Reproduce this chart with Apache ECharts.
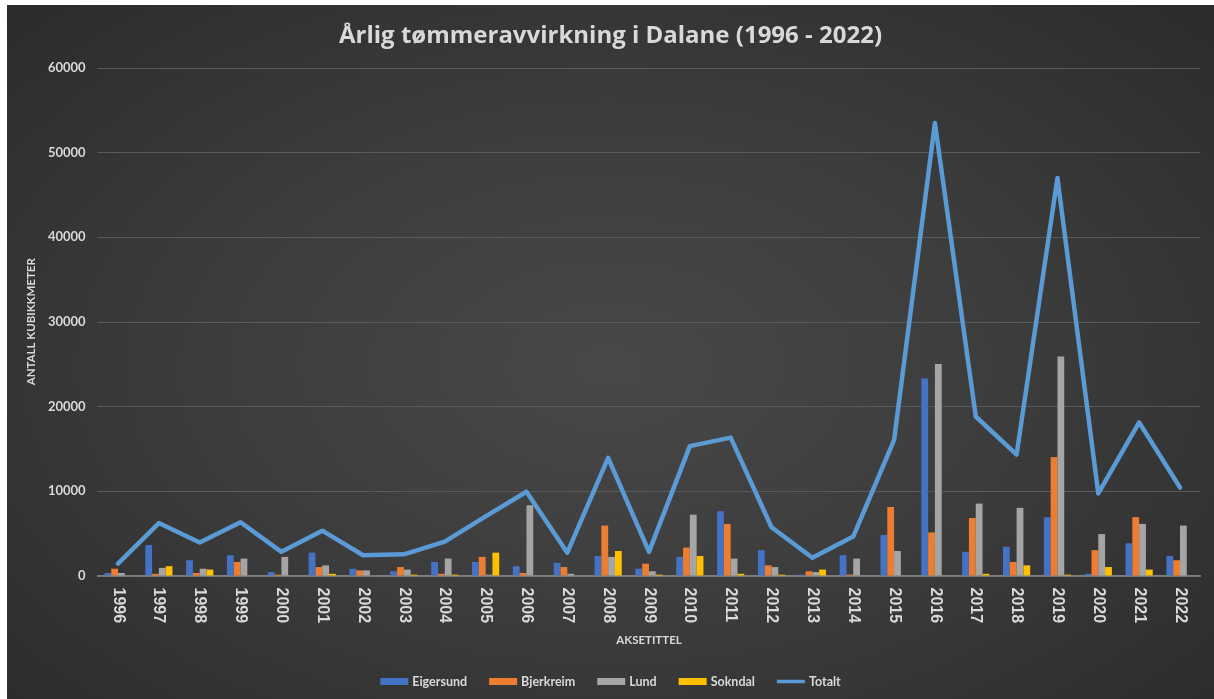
<!DOCTYPE html>
<html>
<head>
<meta charset="utf-8">
<script src="https://cdn.jsdelivr.net/npm/echarts@6/dist/echarts.min.js"></script>
<style>
  html, body { margin: 0; padding: 0; background: #ffffff; width: 1214px; height: 699px; overflow: hidden; }
  #chart { position: absolute; left: 7px; top: 5px; width: 1207px; height: 694px;
    background: radial-gradient(ellipse 70% 75% at 50% 52%, #484848 0%, #3d3d3d 45%, #2b2b2b 100%); }
</style>
</head>
<body>
<div id="chart"></div>
<script>
const years = ['1996','1997','1998','1999','2000','2001','2002','2003','2004','2005','2006','2007','2008','2009','2010','2011','2012','2013','2014','2015','2016','2017','2018','2019','2020','2021','2022'];
const eigersund = [300, 3600, 1800, 2400, 400, 2700, 800, 500, 1600, 1600, 1100, 1500, 2300, 800, 2200, 7600, 3000, 100, 2400, 4800, 23300, 2800, 3400, 6900, 200, 3800, 2300];
const bjerkreim = [800, 200, 300, 1600, 100, 1000, 600, 1000, 200, 2200, 300, 1000, 5900, 1400, 3300, 6100, 1200, 500, 100, 8100, 5100, 6800, 1600, 14000, 3000, 6900, 1800];
const lund = [300, 900, 800, 2000, 2200, 1200, 600, 700, 2000, 100, 8300, 200, 2200, 500, 7200, 2000, 1000, 400, 2000, 2900, 25000, 8500, 8000, 25900, 4900, 6100, 5900];
const sokndal = [0, 1100, 700, 0, 0, 200, 0, 100, 100, 2700, 0, 0, 2900, 100, 2300, 200, 100, 700, 0, 0, 0, 200, 1200, 100, 1000, 700, 0];
const totalt = [1400, 6200, 3900, 6300, 2800, 5300, 2400, 2500, 4000, 7000, 9900, 2700, 13900, 2800, 15300, 16300, 5700, 2100, 4600, 16000, 53500, 18800, 14300, 47000, 9700, 18100, 10400];
const colors = ['#4472c4', '#ed7d31', '#a5a5a5', '#ffc000', '#5b9bd5'];

const chart = echarts.init(document.getElementById('chart'), null, { renderer: 'canvas' });
const txt = '#d9d9d9';
function bar(name, data, color) {
  return {
    name: name, type: 'bar', data: data, barWidth: 6.8, barGap: '0%',
    itemStyle: { color: color }
  };
}
chart.setOption({
  backgroundColor: 'transparent',
  animation: false,
  color: colors,
  title: {
    text: 'Årlig tømmeravvirkning i Dalane (1996 - 2022)',
    left: 'center', top: 14,
    textStyle: { color: txt, fontFamily: 'Open Sans', fontWeight: 'bold', fontSize: 24 }
  },
  legend: {
    bottom: 6, left: 'center',
    itemWidth: 28, itemHeight: 7, itemGap: 22,
    textStyle: { color: txt, fontFamily: 'Lato', fontWeight: 'bold', fontSize: 12.5, padding: [0, 0, 0, -1] },
    data: [
      { name: 'Eigersund', icon: 'rect' },
      { name: 'Bjerkreim', icon: 'rect' },
      { name: 'Lund', icon: 'rect' },
      { name: 'Sokndal', icon: 'rect' },
      { name: 'Totalt', icon: 'path://M0,0h28v3.5h-28z' }
    ]
  },
  grid: { left: 90.6, right: 13.6, top: 63, bottom: 123.5, containLabel: false },
  xAxis: {
    type: 'category', data: years,
    name: 'AKSETITTEL', nameLocation: 'middle', nameGap: 59,
    nameTextStyle: { color: txt, fontFamily: 'Lato', fontWeight: 'bold', fontSize: 11.5 },
    axisLine: { lineStyle: { color: '#8c8c8c', width: 1.5 } },
    axisTick: { show: false },
    axisLabel: { rotate: -90, margin: 12, color: txt, fontFamily: 'Liberation Sans', fontWeight: 'bold', fontSize: 16 }
  },
  yAxis: {
    type: 'value', min: 0, max: 60000, interval: 10000,
    name: 'ANTALL KUBIKKMETER', nameLocation: 'middle', nameGap: 58,
    nameTextStyle: { color: txt, fontFamily: 'Lato', fontWeight: 'bold', fontSize: 11.5 },
    axisLine: { show: false }, axisTick: { show: false },
    axisLabel: { margin: 12, color: txt, fontFamily: 'Lato', fontWeight: 'bold', fontSize: 13,
      formatter: function (v) { return String(v); } },
    splitLine: { lineStyle: { color: '#5a5a5a', width: 1 } }
  },
  series: [
    bar('Eigersund', eigersund, colors[0]),
    bar('Bjerkreim', bjerkreim, colors[1]),
    bar('Lund', lund, colors[2]),
    bar('Sokndal', sokndal, colors[3]),
    {
      name: 'Totalt', type: 'line', data: totalt, symbol: 'none',
      lineStyle: { color: colors[4], width: 4.5, join: 'round', cap: 'round' },
      itemStyle: { color: colors[4] }
    }
  ]
});
</script>
</body>
</html>
